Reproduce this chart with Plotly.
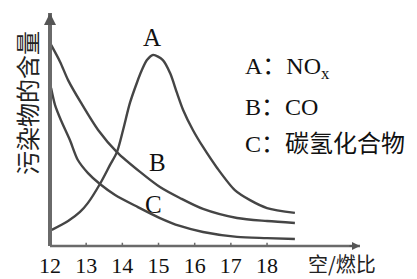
import plotly.graph_objects as go

# Air/fuel ratio ticks
tick_vals = [12, 13, 14, 15, 16, 17, 18]
tick_text = ["12", "13", "14", "15", "16", "17", "18"]

# Curve A: NOx
a_x = [12.05, 12.50, 12.83, 13.05, 13.38, 13.66, 13.85, 14.02, 14.21, 14.41, 14.54, 14.68,
       14.85, 15.12, 15.32, 15.51, 15.68, 15.95, 16.23, 16.62, 17.11, 17.53, 18.00, 18.77]
a_y = [6.9, 10.7, 14.6, 18.5, 26.6, 34.8, 40.3, 49.8, 61.4, 70.4, 75.5, 79.8,
       82.0, 79.8, 74.2, 65.7, 58.4, 49.8, 42.5, 33.5, 24.0, 19.7, 16.3, 14.2]

# Curve B: CO
b_x = [12.03, 12.28, 12.50, 12.86, 13.33, 13.85, 14.49, 15.04, 15.59, 16.23, 17.17, 18.00, 18.77]
b_y = [86.3, 79.0, 71.2, 61.4, 49.8, 40.3, 31.8, 25.3, 20.6, 15.9, 12.0, 10.7, 9.9]

# Curve C: hydrocarbons
c_x = [12.03, 12.14, 12.30, 12.55, 12.77, 13.05, 13.38, 13.80, 14.43, 15.04, 15.59, 16.23, 17.17, 18.00, 18.77]
c_y = [67.8, 60.5, 54.1, 45.5, 36.9, 31.3, 26.6, 21.9, 16.7, 12.0, 8.6, 6.0, 3.9, 3.4, 3.0]

legend_lines = ["A：NO<sub>x</sub>", "B：CO", "C：碳氢化合物"]
curve_names = ["A", "B", "C"]
y_title = "污染物的含量"
x_title = "空/燃比"

FONT = "Liberation Serif, Noto Sans CJK SC, serif"
CJK = "Noto Sans CJK SC"
LINE = "#454545"
AXIS = "#6a6a6a"

# plot area in pixels (for placing text relative to the axes)
L, R, T, B = 50, 360, 13, 246
def dx(px):
    return (px - L) / (R - L)
def dy(py):
    return (B - py) / (B - T)

fig = go.Figure()
for xs, ys in [(a_x, a_y), (b_x, b_y), (c_x, c_y)]:
    fig.add_trace(go.Scatter(x=xs, y=ys, mode="lines",
                             line=dict(color=LINE, width=2.4, shape="spline", smoothing=0.8),
                             showlegend=False, hoverinfo="skip", cliponaxis=False))

ann = []
# curve labels
for name, (px, py) in zip(curve_names, [(152, 38), (157, 162), (153, 204)]):
    ann.append(dict(x=dx(px), y=dy(py), xref="paper", yref="paper", text=name,
                    showarrow=False, xanchor="center", yanchor="middle",
                    font=dict(family=FONT, size=25, color="#111")))
# legend text block
for t, py in zip(legend_lines, [68, 107, 144]):
    ann.append(dict(x=dx(243), y=dy(py), xref="paper", yref="paper",
                    text=t, showarrow=False, xanchor="left", yanchor="middle",
                    font=dict(family=FONT, size=24, color="#111")))
# y title
ann.append(dict(x=dx(26), y=dy(103), xref="paper", yref="paper",
                text=y_title, textangle=-90, showarrow=False,
                xanchor="center", yanchor="middle",
                font=dict(family=CJK, size=24, color="#222")))
# x title
ann.append(dict(x=dx(342), y=dy(263), xref="paper", yref="paper",
                text=x_title, showarrow=False, xanchor="center", yanchor="middle",
                font=dict(family=CJK, size=20, color="#222")))
# axis arrow heads
ann.append(dict(x=1, y=0, xref="paper", yref="paper", ax=-12, ay=0,
                text="", showarrow=True, arrowhead=2, arrowsize=0.8,
                arrowwidth=2, arrowcolor="#555"))
ann.append(dict(x=0, y=1, xref="paper", yref="paper", ax=0, ay=10,
                text="", showarrow=True, arrowhead=2, arrowsize=0.6,
                arrowwidth=4, arrowcolor="#555"))

shapes = [
    dict(type="line", xref="paper", yref="paper", x0=0, x1=1, y0=0, y1=0,
         line=dict(color=AXIS, width=2.5), layer="above"),
    dict(type="line", xref="paper", yref="paper", x0=0, x1=0, y0=0, y1=1,
         line=dict(color=AXIS, width=4), layer="above"),
]
# small tick marks on the x axis
for v in tick_vals[1:]:
    shapes.append(dict(type="line", xref="x", yref="paper", x0=v, x1=v, y0=0, y1=0.014,
                       line=dict(color=AXIS, width=1.5), layer="above"))

fig.update_layout(
    width=417, height=279,
    margin=dict(l=L, r=417 - R, t=T, b=279 - B, autoexpand=False),
    paper_bgcolor="white", plot_bgcolor="white",
    annotations=ann, shapes=shapes,
    xaxis=dict(range=[12, 20.57], showgrid=False, zeroline=False, showline=False,
               automargin=False,
               tickmode="array", tickvals=tick_vals, ticktext=tick_text,
               ticks="", ticklabelstandoff=4,
               tickfont=dict(family=FONT, size=22, color="#111")),
    yaxis=dict(range=[0, 100], showgrid=False, zeroline=False, showline=False,
               automargin=False, showticklabels=False, ticks=""),
)

fig.write_html("out.html", config={"displayModeBar": False},
               post_script="document.body.style.margin='0';document.body.style.padding='0';")
